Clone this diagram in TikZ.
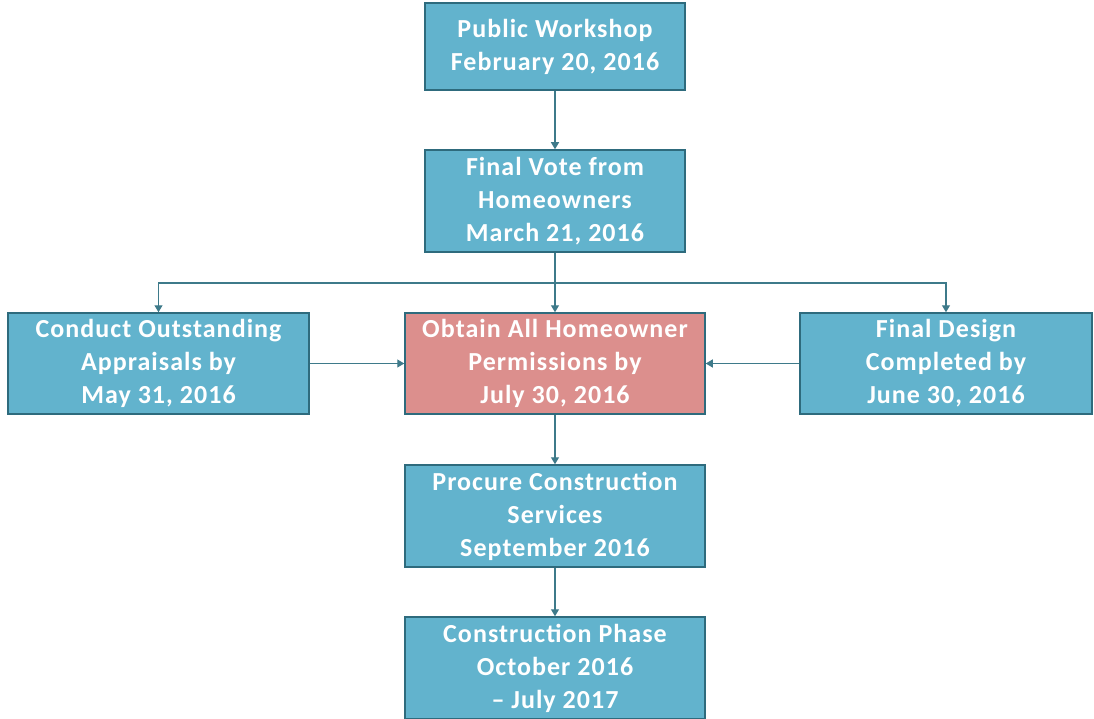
\documentclass[tikz,border=0pt]{standalone}
\usepackage{fontspec}
\setmainfont{Carlito}[LetterSpace=4]
\usetikzlibrary{arrows.meta}
\definecolor{boxfill}{HTML}{62B3CD}
\definecolor{boxedge}{HTML}{2E6B7D}
\definecolor{pinkfill}{HTML}{DC8F8D}
\definecolor{linecol}{HTML}{3E7A8A}
\tikzset{
  stepbox/.style={draw=boxedge, line width=1.5pt, fill=boxfill, text=white, align=center,
    font=\fontsize{26}{33}\selectfont\bfseries, inner sep=0pt},
  link/.style={draw=linecol, line width=1.2pt, -{Triangle[length=7pt,width=8pt]}},
}
\begin{document}
\begin{tikzpicture}[x=1pt,y=-1pt]
\useasboundingbox (0,0) rectangle (1094,719);
\node[stepbox, minimum width=260pt, minimum height=87pt] (pw) at (555,46.5) {Public Workshop\\February 20, 2016};
\node[stepbox, minimum width=260pt, minimum height=102pt] (fv) at (555,201) {Final Vote from\\Homeowners\\March 21, 2016};
\node[stepbox, minimum width=301pt, minimum height=101pt] (ca) at (158.5,363.5) {Conduct Outstanding\\Appraisals by\\May 31, 2016};
\node[stepbox, fill=pinkfill, minimum width=300pt, minimum height=101pt] (oh) at (555,363.5) {Obtain All Homeowner\\Permissions by\\July 30, 2016};
\node[stepbox, minimum width=292pt, minimum height=101pt] (fd) at (946,363.5) {Final Design\\Completed by\\June 30, 2016};
\node[stepbox, minimum width=300pt, minimum height=102pt] (pc) at (555,516) {Procure Construction\\Services\\September 2016};
\node[stepbox, minimum width=300pt, minimum height=102pt] (cp) at (555,668) {Construction Phase\\October 2016\\– July 2017};
\coordinate (split) at (555,283);
\draw[link] (pw) -- (fv);
\draw[link] (fv.south) -- (oh.north);
\draw[link] (split) -| (ca.north);
\draw[link] (split) -| (fd.north);
\draw[link] (ca) -- (oh);
\draw[link] (fd) -- (oh);
\draw[link] (oh) -- (pc);
\draw[link] (pc) -- (cp);
\end{tikzpicture}
\end{document}
